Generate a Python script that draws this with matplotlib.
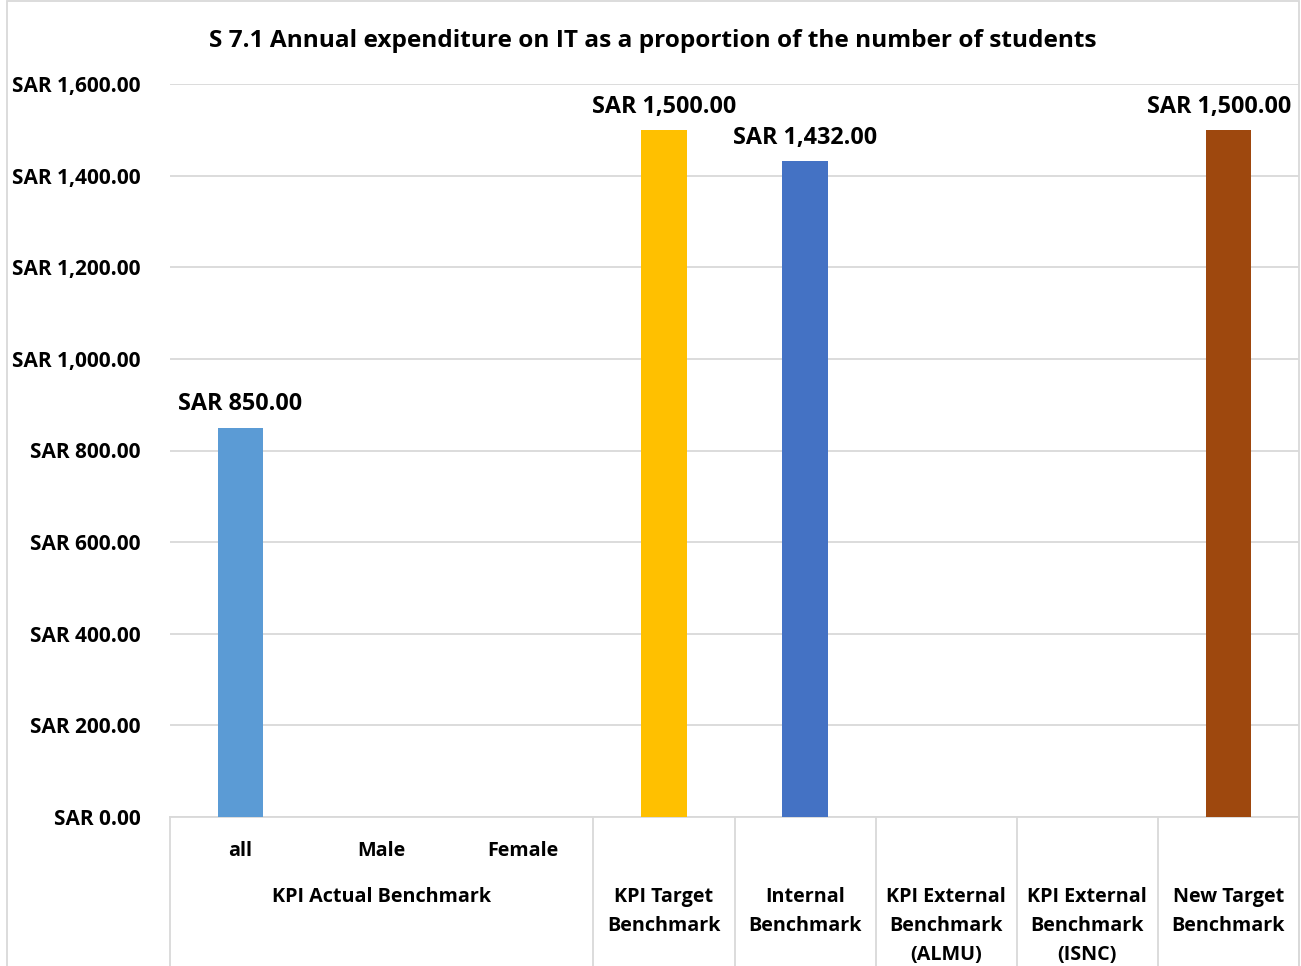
import matplotlib.pyplot as plt
from matplotlib.ticker import FuncFormatter
import numpy as np

plt.rcParams['font.family'] = ['Open Sans', 'DejaVu Sans']
plt.rcParams['font.weight'] = 'bold'

# data
categories = ['all', 'Male', 'Female', 'KPI Target\nBenchmark', 'Internal\nBenchmark',
              'KPI External\nBenchmark\n(ALMU)', 'KPI External\nBenchmark\n(ISNC)',
              'New Target\nBenchmark']
values = [850, np.nan, np.nan, 1500, 1432, np.nan, np.nan, 1500]
colors = ['#5B9BD5', '#5B9BD5', '#5B9BD5', '#FFC000', '#4472C4', '#A5A5A5', '#70AD47', '#9E480E']
group_label = 'KPI Actual Benchmark'
group_members = [0, 1, 2]
title = 'S 7.1 Annual expenditure on IT as a proportion of the number of students'

grid_col = '#D9D9D9'

fig = plt.figure(figsize=(13.01, 9.66), dpi=100)
ax = fig.add_axes([170 / 1301, 149 / 966, 1129 / 1301, 733 / 966])

x = np.arange(len(categories))
ax.bar(x, values, width=0.32, color=colors, zorder=3)
ax.set_xlim(-0.5, len(categories) - 0.5)
ax.set_ylim(0, 1600)
ax.set_yticks(np.arange(0, 1601, 200))
ax.yaxis.set_major_formatter(FuncFormatter(lambda v, p: f'SAR {v:,.2f}'))
ax.tick_params(axis='y', length=0, pad=21, labelsize=15)
ax.set_xticks([])
ax.grid(axis='y', color=grid_col, linewidth=1.3, zorder=0)
for s in ['top', 'right', 'left']:
    ax.spines[s].set_visible(False)
ax.spines['bottom'].set_color(grid_col)
ax.spines['bottom'].set_linewidth(1.3)

# data labels
labels = []
for xi, v in zip(x, values):
    if np.isnan(v):
        continue
    t = ax.annotate(f'SAR {v:,.2f}', (xi, v), xytext=(0, 8), textcoords='offset points',
                    ha='center', va='bottom', fontsize=16.8, fontweight='bold')
    labels.append(t)

# keep labels inside the chart area like Excel does
fig.canvas.draw()
r = fig.canvas.get_renderer()
limit = 1291
for t in labels:
    bb = t.get_window_extent(r)
    if bb.x1 > limit:
        dx = (bb.x1 - limit) * 72 / fig.dpi
        t.set_position((-dx, 8))

# multi-level category axis
trans = ax.get_xaxis_transform()
ah = 733
for i in group_members:
    ax.text(x[i], -34 / ah, categories[i], transform=trans, ha='center', va='center',
            fontsize=14.2, fontweight='bold')
ax.text(np.mean(x[group_members]), -80 / ah, group_label, transform=trans, ha='center',
        va='center', fontsize=14.2, fontweight='bold')
for i in range(len(group_members), len(categories)):
    ax.text(x[i], -70 / ah, categories[i], transform=trans, ha='center', va='top',
            fontsize=14.2, fontweight='bold', linespacing=1.61)

dividers = [-0.5] + [i + 0.5 for i in range(len(group_members) - 1, len(categories))]
for d in dividers:
    ax.plot([d, d], [0, -0.25], transform=trans, color=grid_col, lw=1.3, clip_on=False)

fig.text(653 / 1301, 1 - 41 / 966, title, ha='center', va='center', fontsize=17.6,
         fontweight='bold')

# chart border
fig.patches.append(plt.Rectangle((7 / 1301, -0.01), 1292 / 1301, 1.0 - 1.5 / 966 + 0.01,
                                 transform=fig.transFigure, fill=False,
                                 edgecolor=grid_col, lw=1.3))

fig.savefig('out.png', dpi=100, facecolor='white')
